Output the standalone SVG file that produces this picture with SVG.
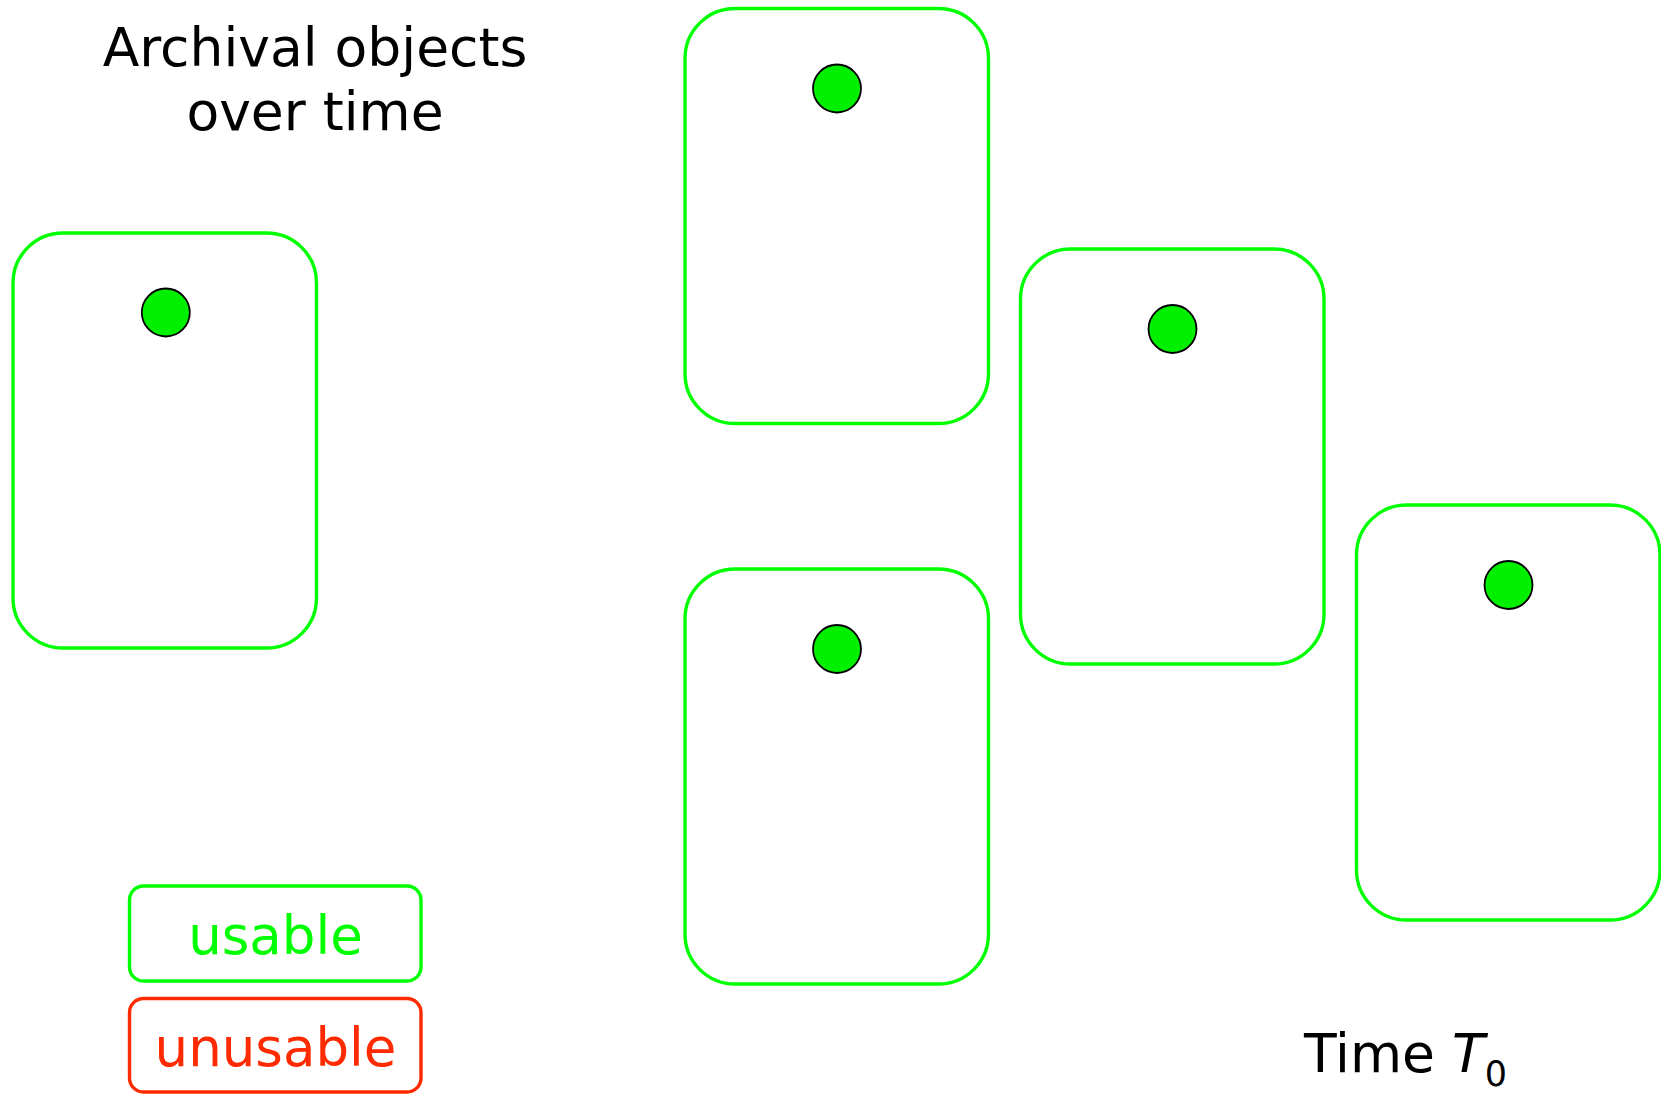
<svg xmlns="http://www.w3.org/2000/svg" width="1661" height="1095" viewBox="0 0 1661 1095">
<style>
.obj{fill:none;stroke:#00ff00;stroke-width:3.4}
.dot{fill:#00f000;stroke:#000;stroke-width:1.8}
.t{font-family:"DejaVu Sans",Verdana,sans-serif;font-size:53.5px;fill:#000}
.leg{font-family:"DejaVu Sans",Verdana,sans-serif;font-size:53px;text-anchor:middle}
</style>
<rect width="1661" height="1095" fill="#fff"/>
<g id="title">
<text class="t" x="315" y="66" text-anchor="middle">Archival objects</text>
<text class="t" x="315" y="130" text-anchor="middle">over time</text>
</g>
<g id="obj1">
<rect class="obj" x="13" y="233" width="303.5" height="415" rx="50" ry="50"/>
<circle class="dot" cx="165.8" cy="312.5" r="24"/>
</g>
<g id="obj2">
<rect class="obj" x="685" y="8.5" width="303.5" height="415" rx="50" ry="50"/>
<circle class="dot" cx="837" cy="88.5" r="24"/>
</g>
<g id="obj3">
<rect class="obj" x="685" y="569" width="303.5" height="415" rx="50" ry="50"/>
<circle class="dot" cx="837" cy="649" r="24"/>
</g>
<g id="obj4">
<rect class="obj" x="1020.5" y="249" width="303.5" height="415" rx="50" ry="50"/>
<circle class="dot" cx="1172.5" cy="329" r="24"/>
</g>
<g id="obj5">
<rect class="obj" x="1356.5" y="505" width="303.5" height="415" rx="50" ry="50"/>
<circle class="dot" cx="1508.5" cy="585" r="24"/>
</g>
<g id="legend-usable">
<rect x="129.5" y="886" width="291.5" height="95" rx="14" ry="14" fill="none" stroke="#00ff00" stroke-width="3.4"/>
<text class="leg" x="275.5" y="954" fill="#00ff00">usable</text>
</g>
<g id="legend-unusable">
<rect x="129.5" y="998.5" width="291.5" height="93.5" rx="14" ry="14" fill="none" stroke="#ff2a00" stroke-width="3.4"/>
<text class="leg" x="275.5" y="1066" fill="#ff2a00">unusable</text>
</g>
<g id="time">
<text class="t" x="1304" y="1072">Time <tspan font-style="italic">T</tspan><tspan font-size="35" dy="14">0</tspan></text>
</g>
<g id="connectors"></g>
</svg>
